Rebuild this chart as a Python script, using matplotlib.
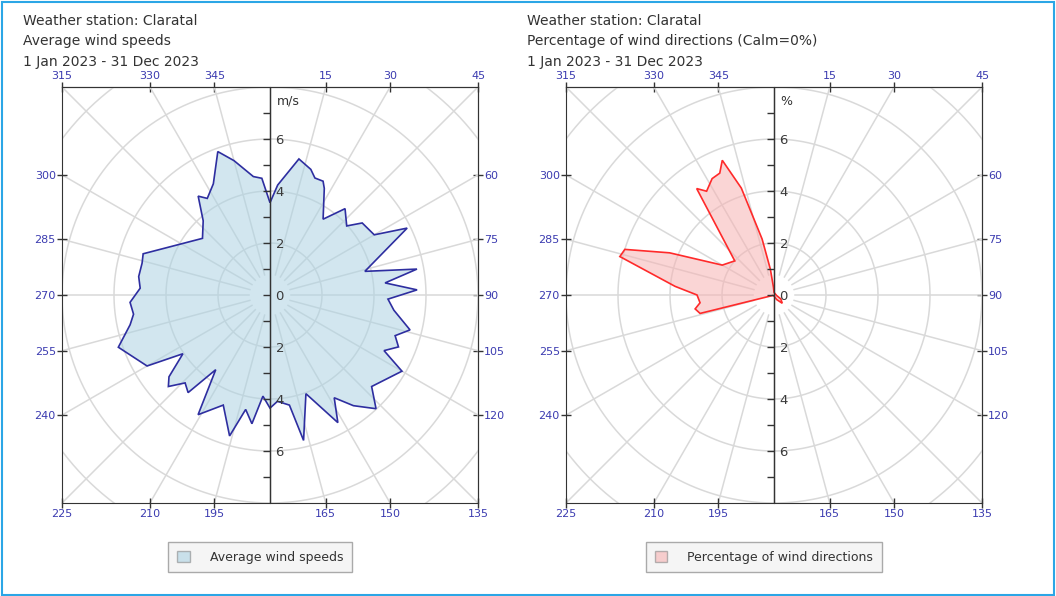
import numpy as np
import matplotlib.pyplot as plt
from matplotlib.patches import Patch, Rectangle

# average wind speed (m/s) by direction (deg)
speed_dirs = [0, 4, 12, 18, 21, 25, 27, 35, 41, 48, 52, 60, 64, 76, 80, 84, 88, 92,
              97, 104, 108, 112, 116, 120, 132, 137, 143, 148, 152, 160, 167, 170,
              176, 180, 184, 188, 192, 196, 203, 211, 216, 220, 224, 228, 231, 236,
              240, 251, 258, 262, 267, 273, 278, 284, 288, 310, 318, 324, 327, 333,
              340, 345, 352, 356]
speed_vals = [3.55, 4.24, 5.35, 5.08, 4.82, 4.83, 4.6, 3.56, 4.4, 3.97, 4.5, 4.63, 5.87,
              3.76, 5.74, 4.45, 5.66, 4.54, 4.8, 5.55, 5.06, 5.33, 4.88, 5.86, 5.26,
              5.98, 5.33, 4.66, 5.56, 4.04, 5.74, 4.3, 4.1, 4.35, 3.9, 5.0, 4.5, 5.64,
              4.6, 5.37, 3.55, 4.9, 4.7, 5.26, 5.0, 4.04, 5.46, 6.17, 5.5, 5.3, 5.39,
              5.0, 5.1, 5.07, 5.13, 3.39, 3.84, 4.7, 4.43, 4.8, 5.87, 5.35, 4.6, 4.5]

# share of wind directions (%)
pct_dirs = [0, 100, 120, 135, 150, 170, 250, 256, 260, 264, 270, 275, 284, 287, 292,
            300, 311, 324, 327, 332, 336, 339, 343, 348, 352, 356]
pct_vals = [0.1, 0.1, 0.3, 0.45, 0.2, 0.05, 0.05, 2.93, 3.08, 2.86, 2.96, 3.82, 6.11,
            6.0, 4.33, 2.3, 2.0, 5.06, 4.76, 5.07, 5.13, 5.55, 4.3, 2.2, 1.0, 0.3]

top_angles = [315, 330, 345, 15, 30, 45]
bottom_angles = [225, 210, 195, 165, 150, 135]
left_angles = [300, 285, 270, 255, 240]
right_angles = [60, 75, 90, 105, 120]
radial_ticks = [-6, -4, -2, 0, 2, 4, 6]

L = 8.0
grid_col = '#d9d9d9'
label_blue = '#3b3bb0'
text_col = '#333333'

fig = plt.figure(figsize=(10.56, 5.96), dpi=100)
fig.patches.append(Rectangle((0.002, 0.002), 0.996, 0.995, transform=fig.transFigure,
                             fill=False, edgecolor='#2ba6e6', lw=1.5))


def rose(left_px, dirs, vals, face, edge, unit, titles, legend_label):
    ax = fig.add_axes([left_px / 1056, 93 / 596, 416 / 1056, 416 / 596])
    ax.set_xlim(-L, L)
    ax.set_ylim(-L, L)

    # grid circles and spokes
    t = np.linspace(0, 2 * np.pi, 400)
    for r in [2, 4, 6, 8, 10]:
        ax.plot(r * np.sin(t), r * np.cos(t), color=grid_col, lw=1.1, zorder=1)
    for a in range(15, 360, 15):
        if a == 180:
            continue
        th = np.radians(a)
        ax.plot([0.8 * np.sin(th), 12 * np.sin(th)], [0.8 * np.cos(th), 12 * np.cos(th)],
                color=grid_col, lw=1.1, zorder=1)

    th = np.radians(dirs)
    x = np.array(vals) * np.sin(th)
    y = np.array(vals) * np.cos(th)
    ax.fill(x, y, facecolor=face, alpha=0.55, zorder=2)
    ax.fill(x, y, facecolor='none', edgecolor=edge, lw=1.2, zorder=3)

    # frame ticks: direction labels where spokes meet the frame
    ax.set_xticks([L * np.tan(np.radians(180 - a)) for a in bottom_angles])
    ax.set_xticklabels([str(a) for a in bottom_angles])
    ax.set_yticks([L * np.tan(np.radians(a - 270)) for a in left_angles])
    ax.set_yticklabels([str(a) for a in left_angles])
    sx = ax.secondary_xaxis('top')
    sx.set_xticks([L * np.tan(np.radians(a if a < 180 else a - 360)) for a in top_angles])
    sx.set_xticklabels([str(a) for a in top_angles])
    sy = ax.secondary_yaxis('right')
    sy.set_yticks([L * np.tan(np.radians(90 - a)) for a in right_angles])
    sy.set_yticklabels([str(a) for a in right_angles])
    for a in (ax, sx, sy):
        a.tick_params(direction='inout', length=7, width=1, color=text_col,
                      labelcolor=label_blue, labelsize=8, pad=1)
        for s in a.spines.values():
            s.set_color(text_col)

    # radial scale on the centre line
    ax.axvline(0, color=text_col, lw=1, zorder=5)
    cy = ax.secondary_yaxis(0.5)
    cy.set_zorder(6)
    cy.set_yticks(radial_ticks)
    cy.set_yticklabels([str(abs(v)) for v in radial_ticks])
    cy.set_yticks(range(-7, 8), minor=True)
    cy.tick_params(which='both', direction='in', length=5, width=1, color=text_col,
                   labelcolor='#3a3a3a', labelsize=9.5, pad=4)
    cy.spines['right'].set_color(text_col)
    ax.text(0.25, L - 0.3, unit, ha='left', va='top', fontsize=9, color=text_col, zorder=6)

    for i, s in enumerate(titles):
        fig.text((left_px - 39) / 1056, 1 - (21 + 20.5 * i) / 596, s, ha='left', va='center',
                 fontsize=10, color=text_col)

    fig.legend(handles=[Patch(facecolor=face, alpha=0.6, edgecolor='#888888', label=legend_label)],
               loc='center', bbox_to_anchor=((left_px + 198) / 1056, 1 - 557 / 596),
               frameon=True, fancybox=False, edgecolor='#aaaaaa', facecolor='#f5f5f5',
               fontsize=9, handlelength=1.0, handleheight=1.0, handletextpad=1.6,
               borderpad=0.7, borderaxespad=0, labelcolor=text_col, framealpha=1)
    return ax


rose(62, speed_dirs, speed_vals, '#add3e3', '#2e2ea0', 'm/s',
     ['Weather station: Claratal', 'Average wind speeds', '1 Jan 2023 - 31 Dec 2023'],
     'Average wind speeds')
rose(566, pct_dirs, pct_vals, '#f7b3b3', '#ff2a2a', '%',
     ['Weather station: Claratal', 'Percentage of wind directions (Calm=0%)',
      '1 Jan 2023 - 31 Dec 2023'],
     'Percentage of wind directions')

fig.savefig('out.png', dpi=100)
